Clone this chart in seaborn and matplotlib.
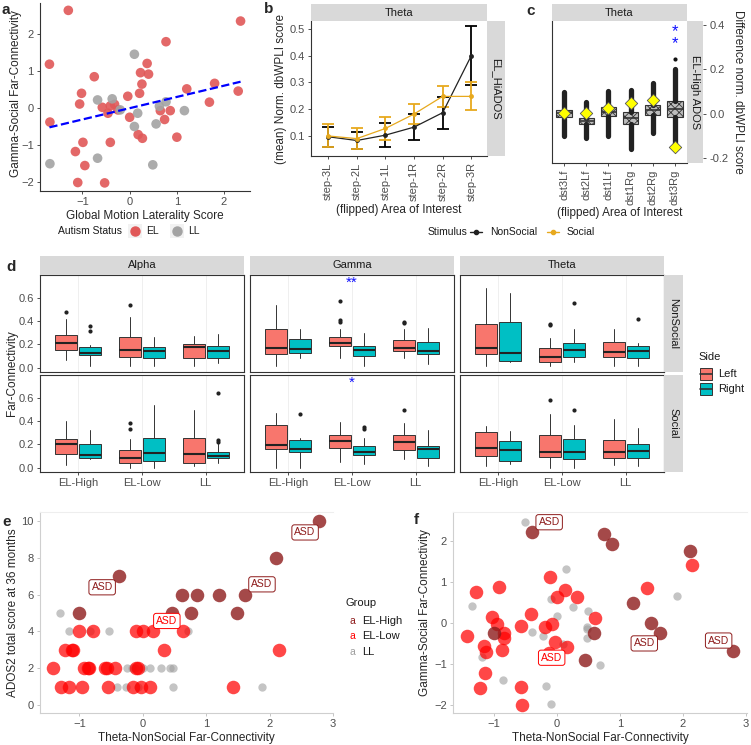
import numpy as np
import pandas as pd
import matplotlib
matplotlib.use('Agg')
import matplotlib.pyplot as plt
import seaborn as sns
from matplotlib.patches import Rectangle
from matplotlib.lines import Line2D

sns.set_theme(style='white')
plt.rcParams['font.family'] = ['Liberation Sans', 'DejaVu Sans']
plt.rcParams['hatch.linewidth'] = 0.6

# ---- panel a data
a_el_x = [-1.30, 2.35, 0.77, -1.70, 0.37, 0.23, 0.40, -0.75, 0.26, 1.80,
          -1.02, 0.21, -0.04, 1.21, 2.30, 1.69, -1.06, -0.58, -0.41, -0.32,
          -0.25, -0.46, 0.86, 0.65, 0.00, 0.74, -1.69, 0.18, 0.27, 1.00,
          -0.99, -0.41, -1.15, -0.95, -1.10, -0.53]
a_el_y = [2.65, 2.36, 1.80, 1.19, 1.21, 0.96, 0.92, 0.85, 0.65, 0.67,
          0.40, 0.40, 0.32, 0.52, 0.46, 0.16, 0.11, 0.02, 0.06, 0.10,
          -0.05, -0.14, -0.07, -0.07, -0.25, -0.31, -0.38, -0.72, -0.82, -0.79,
          -0.93, -0.93, -1.18, -1.56, -2.02, -2.03]
a_ll_x = [0.10, -0.68, -0.37, 0.77, 0.63, 1.16, 0.17, 0.10, 0.56, -1.69, -0.68, 0.49, -0.20]
a_ll_y = [1.46, 0.22, 0.25, 0.17, 0.05, -0.07, -0.14, -0.50, -0.43, -1.51, -1.36, -1.54, -0.05]

# ---- panel b data
steps = ['step-3L', 'step-2L', 'step-1L', 'step-1R', 'step-2R', 'step-3R']
ns_mean = [0.097, 0.083, 0.103, 0.133, 0.187, 0.400]
ns_lo = [0.058, 0.050, 0.060, 0.083, 0.127, 0.290]
ns_hi = [0.135, 0.115, 0.147, 0.183, 0.247, 0.510]
so_mean = [0.100, 0.090, 0.128, 0.182, 0.248, 0.248]
so_lo = [0.060, 0.050, 0.085, 0.145, 0.210, 0.197]
so_hi = [0.143, 0.130, 0.172, 0.218, 0.288, 0.300]

# ---- panel c data
dst = ['dst3Lf', 'dst2Lf', 'dst1Lf', 'dst1Rg', 'dst2Rg', 'dst3Rg']
c_q1 = [-0.015, -0.045, -0.010, -0.045, -0.005, -0.012]
c_med = [0.003, -0.033, 0.010, -0.020, 0.017, 0.020]
c_q3 = [0.018, -0.020, 0.030, 0.010, 0.040, 0.056]
c_lo = [-0.100, -0.110, -0.100, -0.160, -0.087, -0.147]
c_hi = [0.100, 0.055, 0.105, 0.108, 0.138, 0.200]
c_out = [[], [], [], [], [], [0.246]]
c_social = [0.006, 0.006, 0.026, 0.050, 0.063, -0.148]

# ---- panel d data: [stimulus][band] -> 6 boxes (EL-High L/R, EL-Low L/R, LL L/R)
stims = ['NonSocial', 'Social']
bands = ['Alpha', 'Gamma', 'Theta']
groups = ['EL-High', 'EL-Low', 'LL']
d_q1 = [[[0.148, 0.108, 0.088, 0.085, 0.080, 0.080],
         [0.114, 0.122, 0.185, 0.100, 0.145, 0.117],
         [0.117, 0.060, 0.051, 0.094, 0.094, 0.085]],
        [[0.118, 0.080, 0.043, 0.057, 0.037, 0.086],
         [0.161, 0.132, 0.172, 0.109, 0.152, 0.080],
         [0.100, 0.057, 0.092, 0.072, 0.086, 0.080]]]
d_med = [[[0.208, 0.122, 0.148, 0.139, 0.179, 0.139],
          [0.171, 0.159, 0.213, 0.151, 0.171, 0.145],
          [0.165, 0.128, 0.088, 0.151, 0.131, 0.139]],
         [[0.201, 0.109, 0.086, 0.129, 0.115, 0.103],
          [0.195, 0.161, 0.230, 0.138, 0.218, 0.161],
          [0.172, 0.152, 0.138, 0.138, 0.132, 0.146]]]
d_q3 = [[[0.279, 0.176, 0.259, 0.179, 0.199, 0.185],
         [0.335, 0.242, 0.264, 0.185, 0.236, 0.216],
         [0.373, 0.392, 0.165, 0.208, 0.222, 0.185]],
        [[0.244, 0.201, 0.152, 0.253, 0.253, 0.138],
         [0.362, 0.233, 0.276, 0.189, 0.278, 0.189],
         [0.307, 0.227, 0.284, 0.244, 0.233, 0.204]]]
d_lo = [[[0.065, 0.010, 0.010, 0.017, 0.010, 0.037],
         [0.010, 0.080, 0.080, 0.010, 0.080, 0.028],
         [0.010, 0.051, 0.010, 0.051, 0.010, 0.010]],
        [[0.023, 0.072, 0.000, 0.000, 0.010, 0.037],
         [0.000, 0.000, 0.052, 0.029, 0.072, 0.014],
         [0.017, 0.029, 0.000, 0.000, 0.023, 0.017]]]
d_hi = [[[0.420, 0.190, 0.435, 0.259, 0.273, 0.287],
         [0.540, 0.335, 0.330, 0.293, 0.330, 0.341],
         [0.682, 0.643, 0.256, 0.335, 0.335, 0.213]],
        [[0.396, 0.324, 0.247, 0.534, 0.497, 0.210],
         [0.468, 0.253, 0.390, 0.253, 0.379, 0.322],
         [0.359, 0.313, 0.459, 0.362, 0.416, 0.342]]]
d_out = [[[[0.478], [0.358, 0.313], [0.535], [], [], []],
          [[], [], [0.569, 0.41, 0.39], [], [0.38, 0.395], []],
          [[], [], [0.37, 0.375], [0.552], [], [0.42]]],
         [[[], [], [0.382, 0.33], [], [], [0.238, 0.224, 0.64]],
          [[], [0.459], [], [0.345, 0.33], [0.494], []],
          [[], [], [0.577], [0.494], [], []]]]

# ---- panel e / f data
e_high_x = [2.785, 2.10, -0.38, 0.615, 0.85, 1.21, 1.61, 0.457, 0.76, 1.48, -1.00]
e_high_y = [10, 8, 7, 6, 6, 6, 6, 5, 5, 5, 5]
e_low_x = [-1.41, -1.29, -1.16, -1.22, -1.12, -1.10, -1.01, -0.78, -0.96, -0.92, -0.87, -0.84,
           -0.59, -0.56, -0.44, -0.54, -0.16, -0.11, -0.08, -0.11, 0.00, -0.02, 0.12, 0.16,
           0.34, 0.63, 1.42, 2.15]
e_low_y = [2, 1, 1, 3, 3, 3, 4, 4, 1, 2, 2, 2,
           2, 2, 2, 1, 1, 2, 2, 4, 4, 1, 1, 4,
           3, 4, 1, 3]
e_ll_x = [-1.30, -1.16, -0.83, -0.53, -0.41, -0.25, -0.26, -0.17, -0.12, -0.07, 0.01, 0.12,
          0.29, 0.43, 0.48, 0.48, 0.71, 1.88]
e_ll_y = [5, 4, 4, 4, 1, 2, 1, 2, 2, 1, 2, 2,
          2, 2, 2, 1, 4, 1]

f_high_x = [-0.386, 0.757, 0.878, 2.116, 1.206, 1.497, 1.64, 0.593, -0.99, 0.45, 2.80]
f_high_y = [2.24, 2.18, 1.93, 1.77, 0.505, 0.016, -0.23, -0.24, -0.24, -0.90, -0.67]
f_low_x = [2.14, 1.43, -1.28, -0.92, -0.106, 0.132, 0.00, 0.317, -0.41, 0.614, -1.03, -0.94,
           -0.566, -0.185, -0.08, -1.43, -0.83, -0.83, -0.026, 0.159, -1.15, -1.12, -0.87, -0.13,
           -1.14, -1.22, -0.566, -0.55]
f_low_y = [1.43, 0.87, 0.77, 0.90, 1.14, 0.81, 0.65, 0.65, 0.24, 0.12, 0.16, -0.02,
           -0.07, -0.08, -0.02, -0.30, -0.23, -0.37, -0.45, -0.57, -0.55, -0.69, -0.64, -0.73,
           -1.22, -1.57, -1.56, -2.00]
f_ll_x = [-0.51, 0.148, -1.34, -0.09, 0.26, 0.01, 0.49, -0.39, -0.22, 0.487, 0.487, 0.476,
          -1.19, -0.85, -0.17, -0.085, 0.69, 1.905, 0.10]
f_ll_y = [2.48, 1.32, 0.42, 0.59, 0.41, 0.18, 0.30, -0.22, -0.30, -0.08, -0.15, -0.35,
          -0.81, -1.38, -1.52, -1.98, -1.02, 0.68, -0.51]

e_asd = [(2.56, 9.38, 'EL-High'), (-0.64, 6.40, 'EL-High'), (1.88, 6.56, 'EL-High'), (0.38, 4.57, 'EL-Low')]
f_asd = [(-0.12, 2.47, 'EL-High'), (1.39, -0.49, 'EL-High'), (2.57, -0.42, 'EL-High'), (-0.08, -0.84, 'EL-Low')]

W, H = 751, 745
fig = plt.figure(figsize=(W / 100, H / 100), dpi=100)

TICK = '#4D4D4D'
FS = 8


def add_ax(l, t, r, b):
    return fig.add_axes([l / W, 1 - b / H, (r - l) / W, (b - t) / H])


def ftext(x, y, s, **kw):
    return fig.text(x / W, 1 - y / H, s, **kw)


def strip(l, t, r, b, label, rot=0):
    s = add_ax(l, t, r, b)
    s.set_facecolor('#D9D9D9')
    s.set_xticks([])
    s.set_yticks([])
    for sp in s.spines.values():
        sp.set_visible(False)
    s.text(0.5, 0.5, label, rotation=rot, ha='center', va='center',
           fontsize=FS, color='#1A1A1A', transform=s.transAxes)
    return s


def style(ax, spines=('left', 'bottom'), color='#333333'):
    for k, sp in ax.spines.items():
        sp.set_visible(k in spines)
        sp.set_color(color)
        sp.set_linewidth(0.8)
    ax.tick_params(length=2.5, width=0.6, color='#333333', labelcolor=TICK,
                   labelsize=FS, pad=2, left=True, bottom=True)
    ax.grid(False)


# ================= panel a
ax = add_ax(40, 3, 250, 191)
df_a = pd.DataFrame({'x': a_el_x + a_ll_x, 'y': a_el_y + a_ll_y,
                     'status': ['EL'] * len(a_el_x) + ['LL'] * len(a_ll_x)})
sns.scatterplot(data=df_a, x='x', y='y', hue='status',
                palette={'EL': '#E05858', 'LL': '#A3A3A3'}, s=48, alpha=0.9,
                linewidth=0, legend=False, ax=ax)
sns.regplot(data=df_a, x='x', y='y', scatter=False, ci=None, ax=ax,
            line_kws=dict(color='#0000FF', ls='--', lw=1.6))
ax.set_xlim(-1.9, 2.55)
ax.set_ylim(-2.25, 2.85)
ax.set_xticks([-1, 0, 1, 2])
ax.set_yticks([-2, -1, 0, 1, 2])
ax.set_xlabel('Global Motion Laterality Score', fontsize=8.5, labelpad=2)
ax.set_ylabel('Gamma-Social Far-Connectivity', fontsize=8.5)
ax.yaxis.set_label_coords(-0.085, 0.52)
style(ax)

ftext(58, 231, 'Autism Status', fontsize=7.5, va='center', color='#1A1A1A')
for xk, lab, col in [(135, 'EL', '#E05858'), (177, 'LL', '#A3A3A3')]:
    fig.add_artist(Rectangle(((xk - 7) / W, 1 - 238 / H), 14 / W, 14 / H,
                             transform=fig.transFigure, color='#F2F2F2', lw=0))
    fig.add_artist(Line2D([xk / W], [1 - 231 / H], marker='o', ms=6.5, color=col,
                          lw=0, transform=fig.transFigure))
    ftext(xk + 11, 231, lab, fontsize=7.5, va='center', color='#1A1A1A')

# ================= panel b
ax = add_ax(311, 21, 487, 156)
xb = np.arange(len(steps))
ns_mean_a, so_mean_a = np.array(ns_mean), np.array(so_mean)
ax.errorbar(xb, ns_mean_a, yerr=[ns_mean_a - np.array(ns_lo), np.array(ns_hi) - ns_mean_a],
            fmt='none', ecolor='black', capsize=4.5, elinewidth=1.3, capthick=1.3)
ax.errorbar(xb, so_mean_a, yerr=[so_mean_a - np.array(so_lo), np.array(so_hi) - so_mean_a],
            fmt='none', ecolor='#E7A91E', capsize=4.5, elinewidth=1.3, capthick=1.3)
sns.lineplot(x=xb, y=ns_mean, color='#222222', marker='o', ms=3.5, mec='none', lw=0.9, ax=ax)
sns.lineplot(x=xb, y=so_mean, color='#E7A91E', marker='o', ms=3.5, mec='none', lw=0.9, ax=ax)
ax.set_xlim(-0.6, 5.55)
ax.set_ylim(0.025, 0.53)
ax.set_yticks([0.1, 0.2, 0.3, 0.4, 0.5])
ax.set_yticklabels(['0.1', '0.2', '0.3', '0.4', '0.5'])
ax.set_xticks(xb)
ax.set_xticklabels(steps, rotation=90)
ax.set_xlabel('(flipped) Area of Interest', fontsize=8.5, labelpad=2)
ax.set_ylabel('(mean) Norm. dbWPLI score', fontsize=8.5, labelpad=2)
style(ax)
strip(311, 4, 487, 21, 'Theta')
strip(487, 21, 505, 156, 'EL_HiADOS', rot=-90)

# legend b/c
ftext(428, 232, 'Stimulus', fontsize=7.5, va='center', color='#1A1A1A')
for xk, lab, col in [(476, 'NonSocial', '#222222'), (553, 'Social', '#E7A91E')]:
    fig.add_artist(Line2D([(xk - 6) / W, (xk + 6) / W], [1 - 232 / H] * 2, color=col, lw=1,
                          transform=fig.transFigure))
    fig.add_artist(Line2D([xk / W], [1 - 232 / H], marker='o', ms=3, color=col,
                          lw=0, transform=fig.transFigure))
    ftext(xk + 14, 232, lab, fontsize=7.5, va='center', color='#1A1A1A')

# ================= panel c
ax = add_ax(552, 21, 687, 163)
c_ylim = (-0.221, 0.418)
stats = [dict(med=c_med[i], q1=c_q1[i], q3=c_q3[i], whislo=c_lo[i], whishi=c_hi[i],
              fliers=c_out[i]) for i in range(len(dst))]
ax.bxp(stats, positions=np.arange(len(dst)), widths=0.7, patch_artist=True,
       showcaps=False,
       boxprops=dict(facecolor='#BDBDBD', edgecolor='#333333', hatch='xxxx', lw=0.8),
       whiskerprops=dict(color='#222222', lw=3.8),
       medianprops=dict(color='#333333', lw=1.2),
       flierprops=dict(marker='o', ms=3, mfc='#111111', mec='none'))
sns.scatterplot(x=np.arange(len(dst)), y=c_social, marker='D', s=40, color='#FFFF00',
                edgecolor='#555555', linewidth=0.6, zorder=5, ax=ax, legend=False)
ax.text(5, 0.345, '*\n*', color='#1010FF', fontsize=12, ha='center', va='center',
        linespacing=0.75)
ax.set_xlim(-0.55, 5.55)
ax.set_ylim(*c_ylim)
ax.set_xticks(np.arange(len(dst)))
ax.set_xticklabels(dst, rotation=90)
ax.set_yticks([])
ax.set_xlabel('(flipped) Area of Interest', fontsize=8.5, labelpad=2)
style(ax)
strip(552, 4, 687, 21, 'Theta')
s = strip(687, 21, 703, 163, 'EL-High ADOS', rot=-90)
s.set_ylim(*c_ylim)
s.yaxis.tick_right()
s.set_yticks([-0.2, 0.0, 0.2, 0.4])
s.set_yticklabels(['-0.2', '0.0', '0.2', '0.4'])
s.tick_params(axis='y', length=2.5, width=0.6, color='#333333', labelcolor=TICK,
              labelsize=FS, pad=2, right=True)
s.yaxis.set_label_position('right')
s.set_ylabel('Difference norm. dbWPLI score', fontsize=8.5, rotation=270, labelpad=11)

# ================= panel d
col_l = [40, 250, 460]
row_t = [275, 375]
pw, ph = 204, 96.7
for r, stim in enumerate(stims):
    for c, band in enumerate(bands):
        ax = add_ax(col_l[c], row_t[r], col_l[c] + pw, row_t[r] + ph)
        for side, colr in enumerate(['#F8766D', '#00BFC4']):
            idx = [g * 2 + side for g in range(3)]
            st = [dict(med=d_med[r][c][i], q1=d_q1[r][c][i], q3=d_q3[r][c][i],
                       whislo=d_lo[r][c][i], whishi=d_hi[r][c][i],
                       fliers=d_out[r][c][i]) for i in idx]
            pos = np.arange(3) + (-0.1875 if side == 0 else 0.1875)
            ax.bxp(st, positions=pos, widths=0.35, patch_artist=True, showcaps=False,
                   boxprops=dict(facecolor=colr, edgecolor='#333333', lw=0.7),
                   whiskerprops=dict(color='#333333', lw=0.7),
                   medianprops=dict(color='#222222', lw=1.5),
                   flierprops=dict(marker='o', ms=3, mfc='#222222', mec='none'))
        ax.set_xlim(-0.6, 2.6)
        ax.set_ylim(-0.035, 0.795)
        ax.set_xticks(range(3))
        ax.set_yticks([0.0, 0.2, 0.4, 0.6])
        for g in range(3):
            ax.axvline(g, color='#EDEDED', lw=0.6, zorder=0)
        style(ax, spines=('left', 'bottom', 'top', 'right'))
        if c == 0:
            ax.set_yticklabels(['0.0', '0.2', '0.4', '0.6'])
        else:
            ax.set_yticklabels([])
            ax.tick_params(axis='y', length=0)
        if r == 1:
            ax.set_xticklabels(groups)
        else:
            ax.set_xticklabels([])
            ax.tick_params(axis='x', length=0)
        if band == 'Gamma':
            ax.text(1, 0.73, '**' if r == 0 else '*', color='#1010FF', fontsize=11,
                    ha='center', va='center')
        if r == 0:
            strip(col_l[c], 256, col_l[c] + pw, 275, band)
    strip(664, row_t[r], 683, row_t[r] + ph, stim, rot=-90)
ftext(12, 373, 'Far-Connectivity', fontsize=8.5, rotation=90, ha='center', va='center')

ftext(698, 357, 'Side', fontsize=8, va='center', color='#1A1A1A')
for yk, lab, colr in [(374, 'Left', '#F8766D'), (389, 'Right', '#00BFC4')]:
    fig.add_artist(Rectangle((700 / W, 1 - (yk + 6) / H), 12 / W, 12 / H,
                             transform=fig.transFigure, fc=colr, ec='#333333', lw=0.7))
    fig.add_artist(Line2D([700 / W, 712 / W], [1 - yk / H] * 2, color='#333333', lw=1.2,
                          transform=fig.transFigure))
    ftext(718, yk, lab, fontsize=8, va='center', color='#1A1A1A')

# ================= panels e and f
grp_col = {'EL-High': '#8E1B1B', 'EL-Low': '#FF0000', 'LL': '#9E9E9E'}
grp_alpha = {'EL-High': 0.8, 'EL-Low': 0.72, 'LL': 0.6}
grp_size = {'EL-High': 95, 'EL-Low': 95, 'LL': 36}


def scatter_groups(ax, hx, hy, lx, ly, gx, gy):
    for g, xs, ys in [('LL', gx, gy), ('EL-Low', lx, ly), ('EL-High', hx, hy)]:
        sns.scatterplot(x=xs, y=ys, color=grp_col[g], alpha=grp_alpha[g], s=grp_size[g],
                        linewidth=0, ax=ax, legend=False)


def asd_labels(ax, labels):
    for x, y, g in labels:
        ax.text(x, y, 'ASD', fontsize=7.5, color=grp_col[g], ha='center', va='center', zorder=6,
                bbox=dict(boxstyle='round,pad=0.25,rounding_size=0.25', fc='white',
                          ec=grp_col[g], lw=0.7))


ax = add_ax(40, 512, 333, 713)
scatter_groups(ax, e_high_x, e_high_y, e_low_x, e_low_y, e_ll_x, e_ll_y)
asd_labels(ax, e_asd)
ax.set_xlim(-1.62, 3.0)
ax.set_ylim(-0.43, 10.49)
ax.set_xticks([-1, 0, 1, 2, 3])
ax.set_yticks([0, 2, 4, 6, 8, 10])
ax.set_xlabel('Theta-NonSocial Far-Connectivity', fontsize=8.5, labelpad=2)
ax.set_ylabel('ADOS2 total score at 36 months', fontsize=8.5, labelpad=2)
style(ax, spines=('left', 'bottom', 'top'), color='#CFCFCF')
ax.spines['top'].set_color('#EEEEEE')
ax.tick_params(color='#BBBBBB')

ftext(345, 603, 'Group', fontsize=8, va='center', color='#1A1A1A')
for yk, g in [(621, 'EL-High'), (636, 'EL-Low'), (652, 'LL')]:
    ftext(352, yk, 'a', fontsize=7.5, va='center', ha='center', color=grp_col[g])
    ftext(362, yk, g, fontsize=8, va='center', color='#1A1A1A')

ax = add_ax(453, 512, 747, 713)
scatter_groups(ax, f_high_x, f_high_y, f_low_x, f_low_y, f_ll_x, f_ll_y)
asd_labels(ax, f_asd)
ax.set_xlim(-1.646, 3.02)
ax.set_ylim(-2.19, 2.72)
ax.set_xticks([-1, 0, 1, 2, 3])
ax.set_yticks([-2, -1, 0, 1, 2])
ax.set_xlabel('Theta-NonSocial Far-Connectivity', fontsize=8.5, labelpad=2)
ax.set_ylabel('Gamma-Social Far-Connectivity', fontsize=8.5, labelpad=2)
style(ax, spines=('left', 'bottom', 'top'), color='#CFCFCF')
ax.spines['top'].set_color('#EEEEEE')
ax.tick_params(color='#BBBBBB')

# panel letters
for x, y, l in [(2, 10, 'a'), (264, 9, 'b'), (526, 11, 'c'), (6, 267, 'd'), (2, 522, 'e'), (414, 520, 'f')]:
    ftext(x, y, l, fontsize=11, fontweight='bold', va='center')

fig.savefig('out.png', dpi=100)
